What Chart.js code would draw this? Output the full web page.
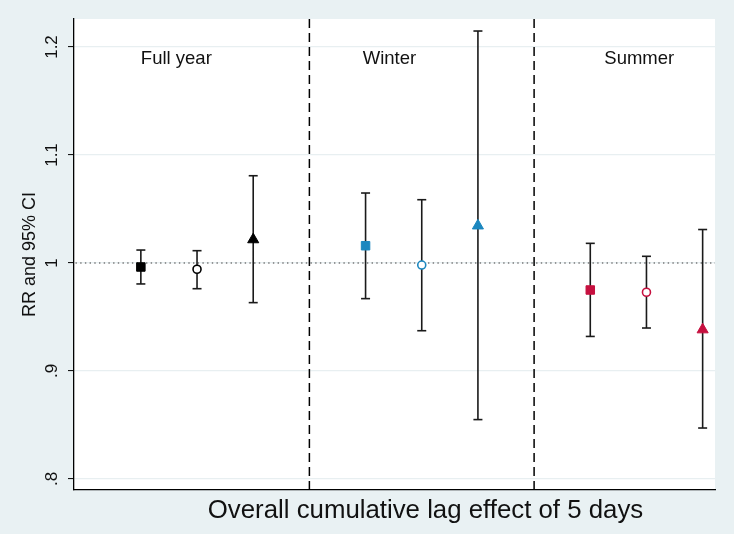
<!DOCTYPE html>
<html>
<head>
<meta charset="utf-8">
<script src="https://cdn.jsdelivr.net/npm/chart.js@4/dist/chart.umd.min.js"></script>
<style>
  html, body { margin: 0; padding: 0; background: #e9f1f3; }
  #chart { display: block; }
</style>
</head>
<body>
<canvas id="chart" width="734" height="534"></canvas>
<script>
// data
const seasons = ["Full year", "Winter", "Summer"];
const xPos = [1, 2, 3, 5, 6, 7, 9, 10, 11];
const rr = [0.9963, 0.9942, 1.0217, 1.016, 0.9981, 1.0345, 0.975, 0.9729, 0.9383];
const lower = [0.9806, 0.9762, 0.9633, 0.967, 0.9373, 0.855, 0.932, 0.9398, 0.8472];
const upper = [1.012, 1.0114, 1.0808, 1.0648, 1.0586, 1.2148, 1.0182, 1.0062, 1.031];
const dividers = [4, 8];
const refValue = 1;
const yTicks = [0.8, 0.9, 1.0, 1.1, 1.2];
const yTickLabels = [".8", ".9", "1", "1.1", "1.2"];

// look
const seasonColors = ["#000000", "#1b87bf", "#c6103f"];
const markerStyles = ["rect", "circle", "triangle"];
const labelX = [1, 4.95, 9.25];
const labelY = 1.184;
const FONT = "'Liberation Sans', Arial, sans-serif";

const markerColor = xPos.map((x, i) => seasonColors[Math.floor(i / 3)]);
const markerStyle = xPos.map((x, i) => markerStyles[i % 3]);
const markerFill = xPos.map((x, i) => (i % 3 === 1 ? "#ffffff" : markerColor[i]));
const markerRadius = xPos.map((x, i) => [6, 4, 6.4][i % 3]);

// whiskers: one dataset, broken by null points
const whiskerData = xPos.flatMap((x, i) => [
  { x: x, y: lower[i] },
  { x: x, y: upper[i] },
  { x: x, y: null },
]);

const Y_MIN = 0.78981;
const Y_MAX = 1.22593;

const dividerSets = dividers.map((d) => ({
  type: "line",
  data: [{ x: d, y: Y_MIN }, { x: d, y: Y_MAX }],
  borderColor: "#000",
  borderWidth: 1.5,
  borderDash: [9, 5],
  pointRadius: 0,
}));

const plotBg = {
  id: "plotBg",
  beforeDraw(chart) {
    const { ctx, chartArea: a } = chart;
    ctx.save();
    ctx.fillStyle = "#ffffff";
    ctx.fillRect(a.left, a.top, a.right - a.left, a.bottom - a.top);
    ctx.restore();
  },
  afterDatasetsDraw(chart) {
    const { ctx } = chart;
    const xs = chart.scales.x, ys = chart.scales.y;
    ctx.save();
    ctx.fillStyle = "#111";
    ctx.font = "18.5px " + FONT;
    ctx.textAlign = "left";
    ctx.textBaseline = "alphabetic";
    seasons.forEach((s, i) => {
      ctx.fillText(s, xs.getPixelForValue(labelX[i]), ys.getPixelForValue(labelY));
    });
    ctx.font = "25.8px " + FONT;
    ctx.textAlign = "center";
    ctx.fillText("Overall cumulative lag effect of 5 days", 425.5, 518);
    ctx.restore();
  },
};

new Chart(document.getElementById("chart").getContext("2d"), {
  type: "scatter",
  data: {
    datasets: [
      {
        label: "RR",
        data: xPos.map((x, i) => ({ x: x, y: rr[i] })),
        pointStyle: markerStyle,
        pointRadius: markerRadius,
        backgroundColor: markerFill,
        borderColor: markerColor,
        borderWidth: xPos.map((x, i) => (i % 3 === 1 ? 1.6 : 1)),
      },
      {
        type: "line",
        label: "95% CI",
        data: whiskerData,
        borderColor: "#1a1a1a",
        borderWidth: 1.6,
        spanGaps: false,
        pointStyle: "line",
        pointRadius: 4.5,
        pointBorderWidth: 1.6,
        pointBorderColor: "#1a1a1a",
      },
      {
        type: "line",
        label: "ref",
        data: [{ x: -1, y: refValue }, { x: 12, y: refValue }],
        borderColor: "#3a3a3a",
        borderWidth: 1.2,
        borderDash: [1.4, 3.3],
        pointRadius: 0,
      },
      ...dividerSets,
    ],
  },
  options: {
    responsive: false,
    animation: false,
    events: [],
    layout: { padding: { top: 19, right: 19, left: 0, bottom: 0 } },
    plugins: { legend: { display: false }, tooltip: { enabled: false } },
    scales: {
      x: {
        type: "linear",
        min: -0.19,
        max: 11.22,
        grid: { display: false },
        border: { display: true, color: "#000", width: 1.3 },
        ticks: { display: false },
        afterFit: (s) => { s.height = 44; },
      },
      y: {
        min: Y_MIN,
        max: Y_MAX,
        afterBuildTicks: (s) => { s.ticks = yTicks.map((v) => ({ value: v })); },
        ticks: {
          minRotation: 90,
          maxRotation: 90,
          crossAlign: "center",
          padding: 4,
          color: "#111",
          font: { family: FONT, size: 17 },
          callback: (v) => yTickLabels[yTicks.findIndex((t) => Math.abs(t - v) < 1e-6)],
        },
        grid: { color: "#e8eff1", lineWidth: 1.2, tickColor: "#000", tickLength: 6, tickWidth: 1 },
        border: { display: true, color: "#000", width: 1.3 },
        title: {
          display: true,
          text: "RR and 95% CI",
          color: "#111",
          font: { family: FONT, size: 18 },
          padding: { top: 19, bottom: 0 },
        },
        afterFit: (s) => { s.width = 74; },
      },
    },
  },
  plugins: [plotBg],
});
</script>
</body>
</html>
